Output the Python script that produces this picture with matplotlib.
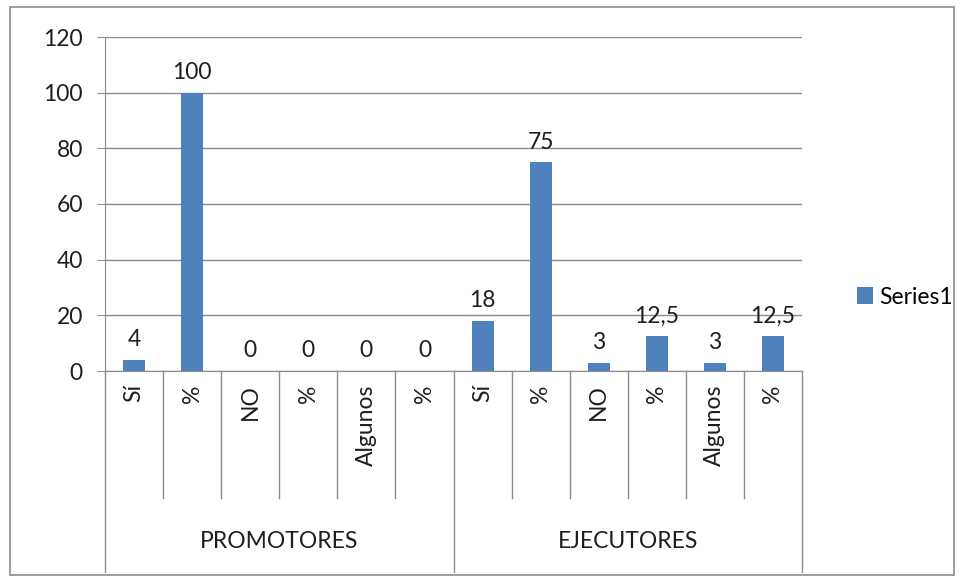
import numpy as np
import matplotlib.pyplot as plt
from matplotlib.patches import Rectangle

# data
groups = ['PROMOTORES', 'EJECUTORES']
sub_labels = ['Sí', '%', 'NO', '%', 'Algunos', '%',
              'Sí', '%', 'NO', '%', 'Algunos', '%']
values = [4, 100, 0, 0, 0, 0, 18, 75, 3, 12.5, 3, 12.5]
value_text = ['4', '100', '0', '0', '0', '0', '18', '75', '3', '12,5', '3', '12,5']
series_name = 'Series1'

plt.rcParams['font.family'] = ['Lato', 'DejaVu Sans']
grey = '#8c8c8c'
bar_color = '#4F81BD'
fs = 16.5
txt = '#1e1e1e'

fig = plt.figure(figsize=(9.61, 5.80), dpi=100)
ax = fig.add_axes([105 / 961, 1 - 371 / 580, (802 - 105) / 961, (371 - 37) / 580])

x = np.arange(len(values))
bars = ax.bar(x, values, width=0.38, color=bar_color, label=series_name, zorder=3)

ax.set_xlim(-0.5, len(values) - 0.5)
ax.set_ylim(0, 120)
ax.set_yticks(range(0, 121, 20))
ax.yaxis.grid(True, color=grey, linewidth=1)
ax.set_axisbelow(True)
ax.tick_params(axis='y', length=6, color=grey, labelsize=fs, pad=10, labelcolor=txt)
ax.set_xticks([])
for side in ['top', 'right']:
    ax.spines[side].set_visible(False)
ax.spines['left'].set_color(grey)
ax.spines['bottom'].set_color(grey)

# value labels
for xi, v, t in zip(x, values, value_text):
    ax.annotate(t, (xi, v), xytext=(0, 7), textcoords='offset points',
                ha='center', va='bottom', fontsize=fs, color=txt)

# category dividers and labels
trans = ax.get_xaxis_transform()
n_per_group = len(values) // len(groups)
for i in range(len(values) + 1):
    edge = i - 0.5
    depth = -0.602 if i % n_per_group == 0 else -0.380
    ax.plot([edge, edge], [0, depth], color=grey, linewidth=1,
            transform=trans, clip_on=False)
for xi, lab in zip(x, sub_labels):
    ax.text(xi, -0.04, lab, rotation=90, ha='center', va='top',
            fontsize=fs, color=txt, transform=trans)
for g, name in enumerate(groups):
    centre = g * n_per_group + (n_per_group - 1) / 2
    ax.text(centre, -0.509, name, ha='center', va='center',
            fontsize=fs, color=txt, transform=trans)

# legend
fig.legend(handles=[bars], labels=[series_name], loc='center left',
           bbox_to_anchor=(836 / 961, 1 - 297 / 580), frameon=False,
           fontsize=fs, handlelength=0.7, handleheight=0.7, handletextpad=0.3)

# outer chart border
fig.patches.append(Rectangle((10 / 961, 5 / 580), 944 / 961, 568 / 580,
                             transform=fig.transFigure, fill=False,
                             edgecolor=grey, linewidth=1.2))

fig.savefig('out.png', dpi=100)
